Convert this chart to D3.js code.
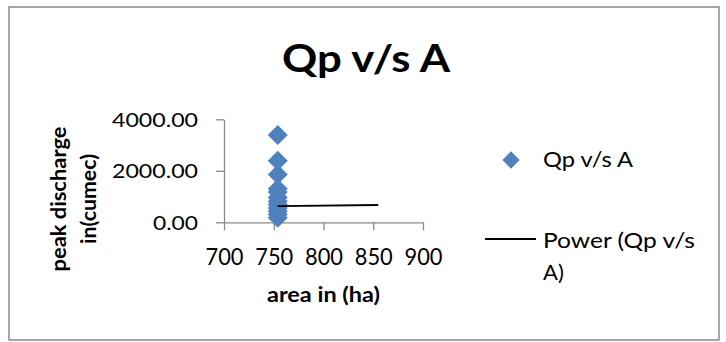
<!DOCTYPE html>
<html>
<head>
<meta charset="utf-8">
<script src="https://cdn.jsdelivr.net/npm/d3@7"></script>
<style>
  html, body { margin: 0; padding: 0; background: #fff; }
  svg { display: block; font-family: Lato, "Open Sans", sans-serif; }
</style>
</head>
<body>
<svg id="chart" width="726" height="342"></svg>
<script>
// Peak discharge (cumec) against catchment area (ha)
const areaHa = [754, 754, 754, 754, 754, 754, 754, 754, 754, 754, 754, 754];
const peakQ  = [3390, 2390, 1860, 1300, 1180, 960, 820, 690, 560, 430, 300, 180];

// Power trendline end points
const trendArea = [754, 855];
const trendQ    = [632, 671];

const xTicks = [700, 750, 800, 850, 900];
const yTicks = [0, 2000, 4000];

const chartTitle = "Qp v/s A";
const xTitle = "area in (ha)";
const yTitleLines = ["peak discharge", "in(cumec)"];
const seriesName = "Qp v/s A";
const trendNameLines = ["Power (Qp v/s", "A)"];

const blue = "#4F81BD";
const axisGray = "#888888";

const svg = d3.select("#chart");

// chart frame
svg.append("rect")
  .attr("x", 9).attr("y", 7)
  .attr("width", 710).attr("height", 333)
  .attr("fill", "#fff")
  .attr("stroke", "#888").attr("stroke-width", 1.5);

const x = d3.scaleLinear().domain([700, 900]).range([224, 423]);
const y = d3.scaleLinear().domain([0, 4000]).range([222.3, 119.3]);

// title
svg.append("text")
  .attr("x", 366).attr("y", 72)
  .attr("text-anchor", "middle")
  .attr("font-size", 38).attr("font-weight", 700)
  .attr("textLength", 168).attr("lengthAdjust", "spacingAndGlyphs")
  .text(chartTitle);

// y axis
const yAxis = svg.append("g")
  .attr("transform", `translate(${x(700)},0)`)
  .call(d3.axisLeft(y).tickValues(yTicks).tickFormat(d3.format(".2f"))
    .tickSize(8).tickSizeOuter(0).tickPadding(18));
yAxis.selectAll("path, line").attr("stroke", axisGray).attr("stroke-width", 1.3);
yAxis.selectAll("text")
  .attr("font-family", "Lato, 'Open Sans', sans-serif")
  .attr("font-size", 20).attr("fill", "#000")
  .attr("dy", 7)
  .each(function(d) {
    d3.select(this).attr("textLength", d === 0 ? 45 : 86)
      .attr("lengthAdjust", "spacingAndGlyphs");
  });

// x axis
const xAxis = svg.append("g")
  .attr("transform", `translate(0,${y(0)})`)
  .call(d3.axisBottom(x).tickValues(xTicks).tickFormat(d3.format("d"))
    .tickSize(8).tickSizeOuter(0));
xAxis.selectAll("path, line").attr("stroke", axisGray).attr("stroke-width", 1.3);
xAxis.selectAll("text")
  .attr("font-family", "Lato, 'Open Sans', sans-serif")
  .attr("font-size", 23).attr("fill", "#000")
  .attr("y", 265 - y(0)).attr("dy", null)
  .attr("textLength", 38).attr("lengthAdjust", "spacingAndGlyphs");

// axis titles
svg.append("text")
  .attr("x", 323.5).attr("y", 302)
  .attr("text-anchor", "middle")
  .attr("font-size", 20).attr("font-weight", 700)
  .attr("textLength", 113).attr("lengthAdjust", "spacingAndGlyphs")
  .text(xTitle);

const yTitleBase = [66, 96];
const yTitleLen = [145, 90];
yTitleLines.forEach((t, i) => {
  svg.append("text")
    .attr("transform", `translate(${yTitleBase[i]},199) rotate(-90)`)
    .attr("text-anchor", "middle")
    .attr("font-size", 20).attr("font-weight", 700)
    .attr("textLength", yTitleLen[i]).attr("lengthAdjust", "spacingAndGlyphs")
    .text(t);
});

// diamond markers
const diamond = d3.symbol().type(d3.symbolSquare).size(200);
svg.append("g").selectAll("path")
  .data(peakQ.map((q, i) => [areaHa[i], q]))
  .join("path")
  .attr("d", diamond)
  .attr("transform", d => `translate(${x(d[0])},${y(d[1])}) rotate(45)`)
  .attr("fill", blue);

// power trendline
svg.append("path")
  .datum(trendArea.map((a, i) => [a, trendQ[i]]))
  .attr("d", d3.line().x(d => x(d[0])).y(d => y(d[1])))
  .attr("fill", "none")
  .attr("stroke", "#000")
  .attr("stroke-width", 1.8);

// legend
svg.append("path")
  .attr("d", d3.symbol().type(d3.symbolSquare).size(150)())
  .attr("transform", "translate(511,160) rotate(45)")
  .attr("fill", blue);
svg.append("text")
  .attr("x", 543).attr("y", 167)
  .attr("font-size", 22)
  .attr("textLength", 90).attr("lengthAdjust", "spacingAndGlyphs")
  .text(seriesName);

svg.append("line")
  .attr("x1", 485).attr("x2", 536)
  .attr("y1", 239).attr("y2", 239)
  .attr("stroke", "#000").attr("stroke-width", 1.8);
const trendLen = [152, null];
trendNameLines.forEach((t, i) => {
  const tx = svg.append("text")
    .attr("x", 543).attr("y", 248 + i * 32)
    .attr("font-size", 22)
    .text(t);
  if (trendLen[i]) tx.attr("textLength", trendLen[i]).attr("lengthAdjust", "spacingAndGlyphs");
});
</script>
</body>
</html>
